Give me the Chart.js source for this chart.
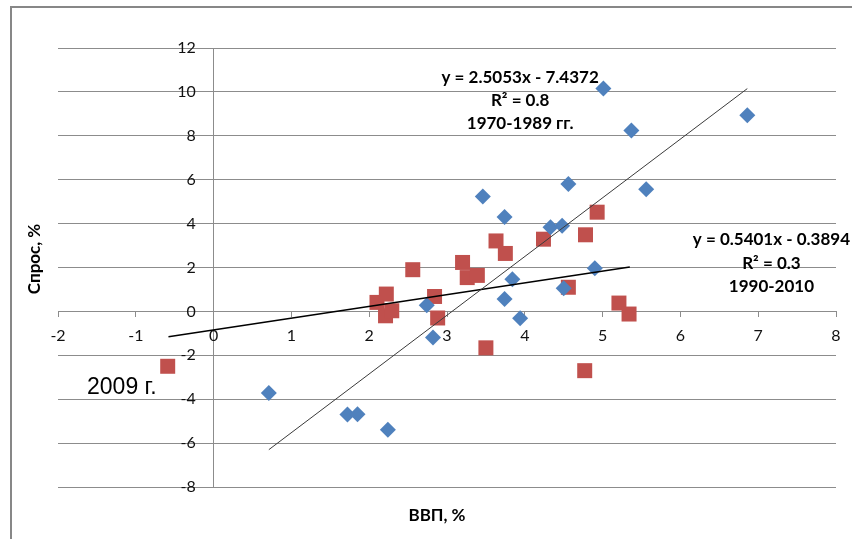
<!DOCTYPE html>
<html>
<head>
<meta charset="utf-8">
<script src="https://cdn.jsdelivr.net/npm/chart.js@4/dist/chart.umd.min.js"></script>
<style>
  html, body { margin: 0; padding: 0; background: #fff; overflow: hidden; }
  #frame { position: absolute; left: 10px; top: 6px; width: 900px; height: 600px; border: 2px solid #878787; }
  #wrap { position: absolute; left: 0; top: 0; width: 852px; height: 539px; }
</style>
</head>
<body>
<div id="frame"></div>
<div id="wrap"><canvas id="c"></canvas></div>
<script>
// 1970-1989: ВВП, % vs Спрос, %
const gdp7089 = [5.01, 5.37, 6.86, 5.56, 4.56, 3.46, 3.74, 4.33, 4.48, 4.90, 3.84, 3.74, 3.94, 4.50, 2.74, 2.82, 0.71, 1.72, 1.85, 2.24];
const demand7089 = [10.15, 8.24, 8.94, 5.57, 5.80, 5.24, 4.30, 3.83, 3.90, 1.97, 1.47, 0.57, -0.31, 1.05, 0.28, -1.19, -3.72, -4.70, -4.69, -5.39];

// 1990-2010
const gdp9010 = [-0.59, 2.10, 2.22, 2.21, 2.29, 2.56, 2.84, 2.88, 3.20, 3.26, 3.39, 3.63, 3.75, 3.50, 4.24, 4.78, 4.93, 4.56, 5.21, 5.34, 4.77];
const demand9010 = [-2.50, 0.41, 0.79, -0.20, 0.03, 1.90, 0.68, -0.30, 2.23, 1.54, 1.64, 3.21, 2.64, -1.66, 3.29, 3.49, 4.52, 1.10, 0.38, -0.12, -2.70];

// trend lines, ends as drawn in the picture
const trend7089X = [0.71, 6.86];
const trend7089Y = [-6.30, 10.15];
const trend9010X = [-0.58, 5.35];
const trend9010Y = [-1.16, 2.02];

const note7089 = ['y = 2.5053x - 7.4372', 'R² = 0.8', '1970-1989 гг.'];
const note9010 = ['y = 0.5401x - 0.3894', 'R² = 0.3', '1990-2010'];
const note2009 = '2009 г.';
const xTitle = 'ВВП, %';
const yTitle = 'Спрос, %';

const pts = (xs, ys) => xs.map((v, i) => ({ x: v, y: ys[i] }));

const GRID = '#8c8c8c';

// equations, year notes and axis titles
const notes = {
  id: 'notes',
  afterDraw(chart) {
    const { ctx, chartArea: a, scales: { x, y } } = chart;
    ctx.save();
    ctx.fillStyle = '#000';
    ctx.textAlign = 'center';
    ctx.textBaseline = 'middle';
    ctx.font = 'bold 17px Lato';
    note7089.forEach((t, i) => ctx.fillText(t, x.getPixelForValue(3.94), y.getPixelForValue(10.64) + i * 22.7));
    note9010.forEach((t, i) => ctx.fillText(t, x.getPixelForValue(7.17), y.getPixelForValue(3.26) + i * 23.3));

    ctx.font = '23px "Liberation Sans"';
    ctx.fillText(note2009, x.getPixelForValue(-1.18), y.getPixelForValue(-3.47));

    ctx.font = 'bold 17px Lato';
    ctx.fillText(xTitle, a.left + 379, a.bottom + 29);
    ctx.translate(a.left - 23, a.top + 211);
    ctx.rotate(-Math.PI / 2);
    ctx.fillText(yTitle, 0, 0);
    ctx.restore();
  }
};

new Chart(document.getElementById('c'), {
  type: 'scatter',
  data: {
    datasets: [
      {
        type: 'line', data: pts(trend7089X, trend7089Y), order: 0,
        borderColor: '#3a3a3a', borderWidth: 1, pointRadius: 0, fill: false
      },
      {
        type: 'line', data: pts(trend9010X, trend9010Y), order: 0,
        borderColor: '#000', borderWidth: 1.5, pointRadius: 0, fill: false
      },
      {
        label: '1970-1989', data: pts(gdp7089, demand7089), order: 1,
        pointStyle: 'rectRot', pointRadius: 8, pointHoverRadius: 8,
        backgroundColor: '#4f81bd', borderColor: '#4f81bd', borderWidth: 0
      },
      {
        label: '1990-2010', data: pts(gdp9010, demand9010), order: 2,
        pointStyle: 'rect', pointRadius: 10.6, pointHoverRadius: 10.6,
        backgroundColor: '#c0504d', borderColor: '#c0504d', borderWidth: 0
      }
    ]
  },
  options: {
    responsive: true,
    maintainAspectRatio: false,
    animation: false,
    events: [],
    layout: { padding: { left: 58, top: 48, right: 16, bottom: 52 } },
    plugins: { legend: { display: false }, tooltip: { enabled: false } },
    scales: {
      x: {
        type: 'linear',
        position: { y: 0 },
        min: -2, max: 8,
        ticks: { stepSize: 1, color: '#111', font: { family: 'Lato', size: 16 }, padding: 10, maxRotation: 0 },
        grid: {
          color: c => (c.tick && c.tick.value === 0) ? GRID : 'rgba(0,0,0,0)',
          tickColor: GRID, tickLength: 5, lineWidth: 1
        },
        border: { color: GRID, width: 1 },
        afterFit: s => { s.height = 0; }
      },
      y: {
        type: 'linear',
        position: { x: -0.23 },
        min: -8, max: 12,
        ticks: { stepSize: 2, color: '#111', font: { family: 'Lato', size: 16 }, padding: 0 },
        grid: { color: GRID, drawTicks: false, lineWidth: 1 },
        border: { display: false },
        afterFit: s => { s.width = 0; }
      }
    }
  },
  plugins: [notes]
});
</script>
</body>
</html>
